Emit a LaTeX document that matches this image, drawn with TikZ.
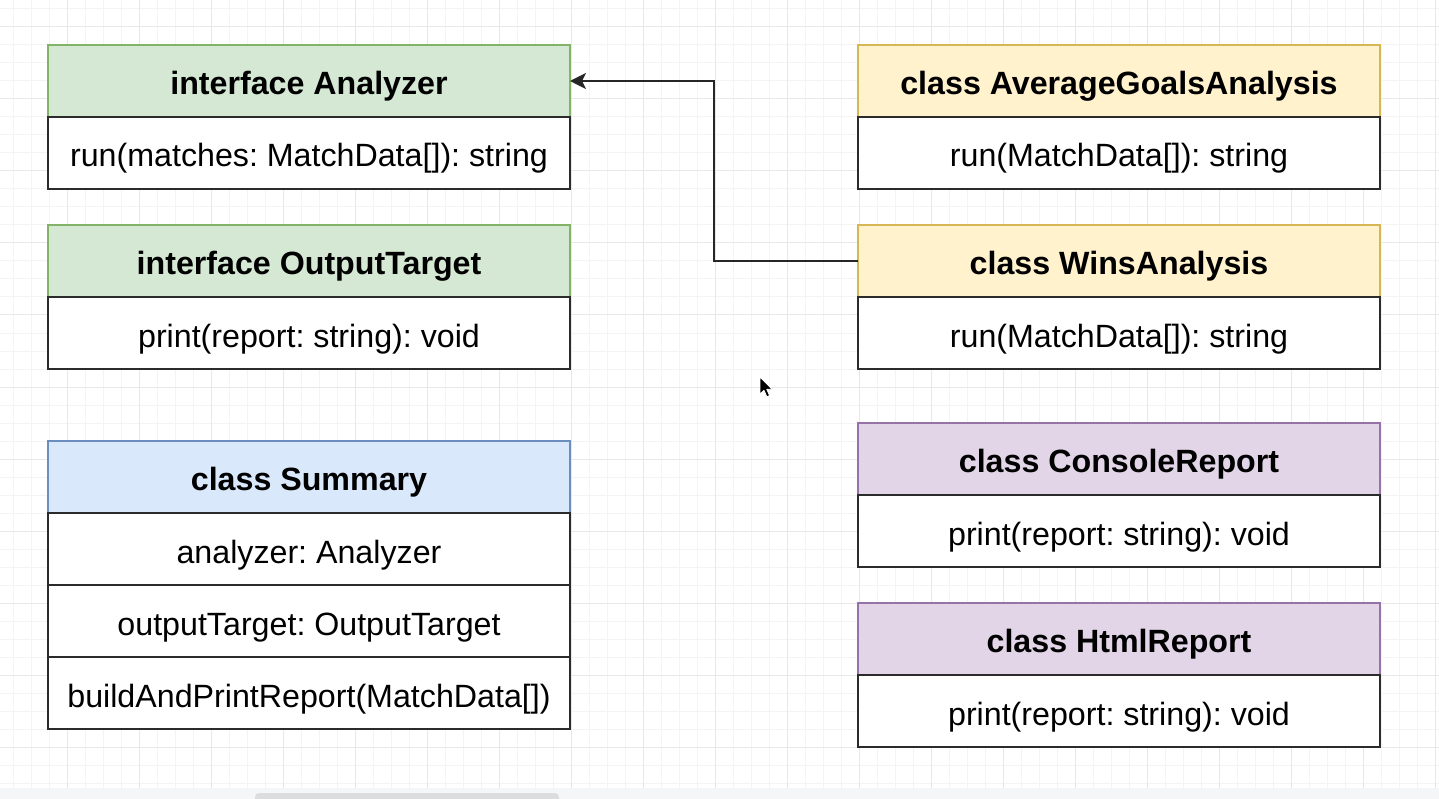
\documentclass[tikz,border=0pt]{standalone}
\usepackage{fontspec}
\setmainfont{Liberation Sans}
\usetikzlibrary{arrows.meta,calc}
\frenchspacing
\definecolor{gfill}{HTML}{D5E8D4}\definecolor{gline}{HTML}{82B366}
\definecolor{yfill}{HTML}{FFF2CC}\definecolor{yline}{HTML}{D6B656}
\definecolor{bfill}{HTML}{DAE8FC}\definecolor{bline}{HTML}{6C8EBF}
\definecolor{pfill}{HTML}{E1D5E7}\definecolor{pline}{HTML}{9673A6}
\definecolor{gridminor}{HTML}{F4F4F4}\definecolor{gridmajor}{HTML}{E8E8E8}
\definecolor{bodyline}{HTML}{2B2B2B}
\definecolor{barbg}{HTML}{F5F6F8}\definecolor{barthumb}{HTML}{DCDDDF}
\tikzset{
  box/.style={rectangle,minimum width=522pt,minimum height=72pt,inner sep=0pt,outer sep=0pt,anchor=north west},
  hdr/.style={box,line width=1.5pt,text height=27pt,text depth=0pt,font=\fontsize{32.2}{38}\selectfont\bfseries},
  body/.style={box,draw=bodyline,fill=white,line width=2pt,text height=28pt,text depth=0pt,font=\fontsize{32.2}{38}\selectfont},
  conn/.style={draw=black!85,line width=1.5pt,-{Stealth[length=16pt,width=16pt,inset=4pt]}},
}
\begin{document}
\begin{tikzpicture}[x=1pt,y=-1pt]
\useasboundingbox (0,0) rectangle (1439,799);
\fill[white] (0,0) rectangle (1439,799);
% grid
\foreach \i in {0,...,79}{\draw[gridminor,line width=1pt] ({13+18*\i},0) -- ({13+18*\i},788);}
\foreach \i in {0,...,43}{\draw[gridminor,line width=1pt] (0,{9+18*\i}) -- (1439,{9+18*\i});}
\foreach \i in {0,...,19}{\draw[gridmajor,line width=1pt] ({67+72*\i},0) -- ({67+72*\i},788);}
\foreach \i in {0,...,10}{\draw[gridmajor,line width=1pt] (0,{27+72*\i}) -- (1439,{27+72*\i});}
% bottom bar
\fill[barbg] (0,788) rectangle (1439,799);
\fill[barthumb,rounded corners=4pt] (255,793) rectangle (559,803);
% left column
\node[hdr,fill=gfill,draw=gline] (an) at (48,45) {interface Analyzer};
\node[body] (anb) at (an.south west) {run(matches: MatchData[]): string};
\node[hdr,fill=gfill,draw=gline] (ot) at (48,225) {interface OutputTarget};
\node[body] (otb) at (ot.south west) {print(report: string): void};
\node[hdr,fill=bfill,draw=bline] (su) at (48,441) {class Summary};
\node[body] (su1) at (su.south west) {analyzer: Analyzer};
\node[body] (su2) at (su1.south west) {outputTarget: OutputTarget};
\node[body] (su3) at (su2.south west) {buildAndPrintReport(MatchData[])};
% right column
\node[hdr,fill=yfill,draw=yline] (ag) at (858,45) {class AverageGoalsAnalysis};
\node[body] (agb) at (ag.south west) {run(MatchData[]): string};
\node[hdr,fill=yfill,draw=yline] (wa) at (858,225) {class WinsAnalysis};
\node[body] (wab) at (wa.south west) {run(MatchData[]): string};
\node[hdr,fill=pfill,draw=pline] (cr) at (858,423) {class ConsoleReport};
\node[body] (crb) at (cr.south west) {print(report: string): void};
\node[hdr,fill=pfill,draw=pline] (hr) at (858,603) {class HtmlReport};
\node[body] (hrb) at (hr.south west) {print(report: string): void};
% connector
\draw[conn] (wa.west) -| ($(an.east)!.5!(wa.west)$) |- (an.east);
% mouse cursor
\filldraw[fill=black,draw=white,line width=0.8pt,line join=round]
  (760,377) -- (760,394) -- (764,390.3) -- (766.8,396.8) -- (769.6,395.6) -- (766.8,389.4) -- (772.2,389.2) -- cycle;
\end{tikzpicture}
\end{document}
